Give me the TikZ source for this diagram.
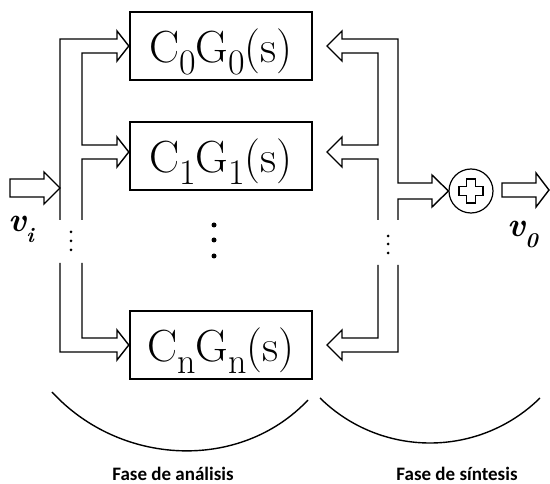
\documentclass[tikz,border=0pt]{standalone}
\usepackage{fontspec}
\usetikzlibrary{calc}
\newfontfamily\labfont{Carlito}
\newcommand\subdown[2]{\lower#1pt\hbox{\fontsize{36}{36}\selectfont #2}}
\newcommand\cgtext[1]{C\subdown{12}{#1}G\subdown{12}{#1}(s)}
\newcommand\vlabtext[1]{{\bfseries\itshape v\lower11pt\hbox{\fontsize{21}{21}\selectfont #1}}}
\begin{document}
\begin{tikzpicture}[x=1pt,y=-1pt,
  box/.style={draw,line width=2.4pt,minimum width=182pt,minimum height=68pt,inner sep=0pt,
    text height=34pt,text depth=0pt,font=\fontsize{45}{50}\selectfont},
  hollow/.style={line width=1.4pt,line join=miter},
  sumc/.style={draw,circle,line width=1.2pt,minimum size=44pt,inner sep=0pt},
  vlab/.style={font=\fontsize{34}{38}\selectfont,inner sep=0pt,anchor=base west},
  phase/.style={font=\labfont\bfseries\fontsize{19}{21}\selectfont,inner sep=0pt,anchor=base},
  arcline/.style={line width=1.4pt},
  dotb/.style={fill=black}]
\useasboundingbox (0,0) rectangle (550,484);
% boxes
\node[box] (b0) at (221,46) {\cgtext{0}};
\node[box] (b1) at (221,156) {\cgtext{1}};
\node[box] (bn) at (221,345) {\cgtext{n}};
% summing junction
\node[sumc] (sum) at (471,191) {};
\draw[line width=1.1pt,line join=miter]
  ($(sum)+(-4.5,-12)$) -- ($(sum)+(4.5,-12)$) -- ($(sum)+(4.5,-4.5)$) -- ($(sum)+(12,-4.5)$)
  -- ($(sum)+(12,4.5)$) -- ($(sum)+(4.5,4.5)$) -- ($(sum)+(4.5,12)$) -- ($(sum)+(-4.5,12)$)
  -- ($(sum)+(-4.5,4.5)$) -- ($(sum)+(-12,4.5)$) -- ($(sum)+(-12,-4.5)$) -- ($(sum)+(-4.5,-4.5)$) -- cycle;
% labels
\node[vlab] (vi) at (8,232) {\vlabtext{i}};
\node[vlab] (vo) at (507,237) {\vlabtext{0}};
\node[phase] (fa) at (173,480) {Fase de análisis};
\node[phase] (fs) at (457,480) {Fase de síntesis};
% input hollow arrow
\coordinate (inA) at (60,188);
\draw[hollow] (10,179) -- (44,179) -- (44,172) -- (inA) -- (44,204) -- (44,197) -- (10,197) -- cycle;
% left distribution
\draw[hollow] (60,220) -- (60,39) -- (117,39) -- (117,31) -- (b0.west) -- (117,61) -- (117,53)
  -- (82,53) -- (82,145) -- (117,145) -- (117,137) -- (b1.west |- 0,152) -- (117,167) -- (117,159)
  -- (82,159) -- (82,220);
\draw[hollow] (82,263) -- (82,338) -- (117,338) -- (117,330) -- (bn.west) -- (117,360) -- (117,352)
  -- (60,352) -- (60,263);
% right collection
\draw[hollow] (378,220) -- (378,159) -- (342,159) -- (342,167) -- (327,152) -- (342,137) -- (342,145)
  -- (378,145) -- (378,53) -- (342,53) -- (342,61) -- (327,46) -- (342,31) -- (342,39)
  -- (398,39) -- (398,183) -- (432,183) -- (432,175) -- (sum.west) -- (432,207) -- (432,199)
  -- (398,199) -- (398,220);
\draw[hollow] (378,265) -- (378,338) -- (342,338) -- (342,330) -- (327,345) -- (342,360) -- (342,352)
  -- (398,352) -- (398,265);
% output hollow arrow
\draw[hollow] (502,183) -- (536,183) -- (536,173) -- (549,190) -- (536,207) -- (536,197) -- (502,197) -- cycle;
% dots
\foreach \yy in {232,241,250} \fill[dotb] (71,\yy) circle (1.5);
\foreach \yy in {225,240,256} \fill[dotb] (214,\yy) circle (2.5);
\foreach \yy in {236,244,253} \fill[dotb] (388,\yy) circle (1.5);
% arcs
\draw[arcline] (52,392) .. controls (120,466) and (240,472) .. (308,400);
\draw[arcline] (320,398) .. controls (381,458) and (479,458) .. (540,398);
\end{tikzpicture}
\end{document}
